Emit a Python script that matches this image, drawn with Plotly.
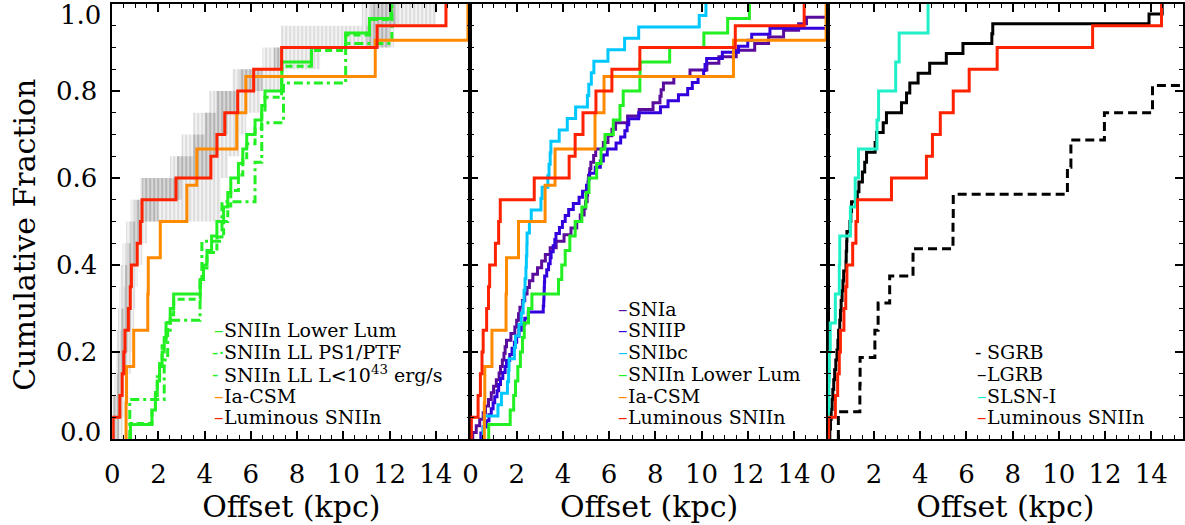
import plotly.graph_objects as go

FONT = "DejaVu Serif"

# ---------------- data: offsets (kpc) ----------------
lum_sniin = [0.04, 0.33, 0.43, 0.50, 0.55, 0.70, 0.78, 0.83, 1.08, 1.22, 1.29,
             2.76, 4.27, 4.53, 4.87, 5.43, 6.12, 7.33, 11.46, 14.44]
ia_csm = [0.60, 0.62, 0.93, 1.54, 1.56, 2.08, 3.23, 3.66, 5.39, 5.78, 11.38, 15.39]
sniin_lower = [0.79, 1.72, 1.87, 1.95, 2.05, 2.16, 2.25, 2.33, 2.51, 2.66,
               3.81, 3.95, 4.10, 4.30, 4.53, 4.82, 5.00, 5.13, 5.46, 5.65,
               5.82, 6.18, 6.47, 6.61, 7.33, 7.34, 8.62, 10.10, 11.13, 12.07]
sniin_ll_ps1ptf = [0.76, 2.25, 2.40, 3.80, 3.88, 4.75, 6.18, 6.47, 7.41, 10.10, 12.10]
sniin_ll_lowl = [0.79, 1.72, 1.87, 1.95, 2.05, 2.16, 2.33, 2.51, 2.66, 3.81,
                 3.95, 4.10, 4.53, 4.82, 5.00, 5.13, 5.46, 5.65, 5.82, 6.18,
                 6.47, 6.61, 7.33, 7.34, 8.62, 10.10, 11.13, 12.07]
snia = [0.10, 0.25, 0.40, 0.55, 0.65, 0.78, 0.90, 1.00, 1.12, 1.24, 1.30,
        1.38, 1.45, 1.50, 1.56, 1.75, 1.92, 2.00, 2.08, 2.14, 2.25, 2.35,
        2.45, 2.55, 2.70, 2.90, 3.08, 3.24, 3.45, 3.71, 4.05, 4.35, 4.60,
        4.75, 4.92, 4.98, 5.05, 5.07, 5.09, 5.11, 5.16, 5.21, 5.33, 5.42,
        5.75, 5.95, 6.12, 6.28, 6.80, 7.30, 7.90, 8.20, 8.25, 8.35, 8.80,
        9.50, 10.23, 10.75, 11.50, 12.30, 12.90, 13.55, 14.20, 14.54, 17.0, 23.0]
sniip = [0.45, 0.55, 0.70, 0.80, 0.90, 0.98, 1.05, 1.15, 1.22, 1.30, 1.40,
         1.50, 1.56, 1.70, 1.80, 1.90, 2.00, 2.10, 2.20, 2.35, 2.50, 3.15,
         3.17, 3.18, 3.19, 3.20, 3.21, 3.30, 3.38, 3.45, 3.49, 3.58, 3.65,
         3.70, 3.85, 3.98, 4.10, 4.25, 4.45, 4.70, 4.85, 5.02, 5.10, 5.15,
         5.40, 5.62, 5.75, 5.92, 6.30, 6.50, 6.68, 6.78, 6.85, 7.28, 8.22,
         8.55, 9.00, 9.40, 9.60, 9.85, 10.09, 10.15, 10.22, 10.90, 11.60,
         12.00, 12.17, 12.96, 17.0, 19.0, 24.0, 30.0]
snibc = [0.55, 0.60, 1.19, 1.34, 1.60, 1.65, 1.67, 1.90, 1.95, 2.10, 2.20,
         2.28, 2.32, 2.36, 2.40, 2.42, 2.44, 2.45, 2.55, 2.63, 3.05, 3.10,
         3.35, 3.40, 3.45, 3.48, 3.84, 4.19, 4.55, 5.06, 5.12, 5.23, 5.34,
         5.95, 6.67, 7.28, 9.90, 10.19]
lgrb = [0.09, 0.12, 0.15, 0.19, 0.22, 0.26, 0.30, 0.35, 0.40, 0.44, 0.47,
        0.52, 0.55, 0.58, 0.62, 0.66, 0.69, 0.79, 0.80, 0.82, 0.83, 0.96,
        1.00, 1.03, 1.28, 1.35, 1.50, 1.60, 1.68, 2.05, 2.11, 2.40, 2.54,
        3.19, 3.41, 3.55, 3.91, 4.41, 5.13, 5.85, 7.10, 7.14, 13.90, 14.47]
slsn_i = [0.03, 0.05, 0.07, 0.11, 0.33, 0.50, 0.52, 0.98, 1.19, 1.33,
          2.13, 2.20, 2.94, 3.09, 4.34]
sgrb = [0.46, 1.39, 1.40, 2.04, 2.18, 2.68, 3.69, 5.42, 5.43, 10.37,
        10.52, 11.97, 14.05, 17.0, 20.0, 25.0]

# grey envelope around the luminous SNIIn distribution (x range per 1/20 step)
band_outer_lo = [0.00, 0.00, 0.10, 0.15, 0.20, 0.25, 0.30, 0.35, 0.45, 0.60,
                 0.80, 1.20, 2.50, 3.00, 3.50, 4.20, 5.20, 6.50, 7.30, 10.80]
band_outer_hi = [0.45, 0.55, 0.70, 0.80, 0.85, 0.95, 1.00, 1.10, 1.30, 1.50,
                 4.70, 4.70, 5.00, 5.50, 5.80, 6.40, 7.40, 9.00, 12.20, 14.00]
band_inner_lo = [0.00, 0.05, 0.20, 0.25, 0.35, 0.40, 0.50, 0.55, 0.65, 0.80,
                 1.00, 1.30, 2.80, 3.50, 4.00, 4.50, 5.50, 7.00, 11.00, 11.20]
band_inner_hi = [0.30, 0.40, 0.50, 0.60, 0.70, 0.80, 0.85, 0.90, 1.10, 1.25,
                 2.00, 3.00, 4.30, 4.60, 5.00, 5.50, 6.50, 7.40, 12.00, 12.30]

x_ticks = [0, 2, 4, 6, 8, 10, 12, 14]
y_ticks = [0.2, 0.4, 0.6, 0.8]
y_end_labels = ["0.0", "1.0"]
x_title = "Offset (kpc)"
y_title = "Cumulative Fraction"

# ---------------- styles ----------------
RED = "#ff2200"
ORANGE = "#ff8a00"
GREEN = "#22f022"
CYAN = "#00c8ff"
BLUE = "#3300dd"
PURPLE = "#5a0c9c"
AQUA = "#20f0c8"
BLACK = "#000000"

panels = [
    [("SNIIn Lower Lum", sniin_lower, GREEN, "solid", "–"),
     ("SNIIn LL PS1/PTF", sniin_ll_ps1ptf, GREEN, "9px,4px,3px,4px", "-·"),
     ("SNIIn LL L&lt;10<sup>43</sup> erg/s", sniin_ll_lowl, GREEN, "7px,4px", "- "),
     ("Ia-CSM", ia_csm, ORANGE, "solid", "–"),
     ("Luminous SNIIn", lum_sniin, RED, "solid", "–")],
    [("SNIa", snia, PURPLE, "solid", "–"),
     ("SNIIP", sniip, BLUE, "solid", "–"),
     ("SNIbc", snibc, CYAN, "solid", "–"),
     ("SNIIn Lower Lum", sniin_lower, GREEN, "solid", "–"),
     ("Ia-CSM", ia_csm, ORANGE, "solid", "–"),
     ("Luminous SNIIn", lum_sniin, RED, "solid", "–")],
    [("SGRB", sgrb, BLACK, "9px,5px", "- "),
     ("LGRB", lgrb, BLACK, "solid", "–"),
     ("SLSN-I", slsn_i, AQUA, "solid", "–"),
     ("Luminous SNIIn", lum_sniin, RED, "solid", "–")],
]
legend_x = [4.95, 6.96, 7.0]          # data-x where legend text starts
legend_top = [0.25, 0.30, 0.20]       # data-y of first legend row
legend_step = 0.05

W, H = 1185, 525
xdom = [[105 / W, 466 / W], [466 / W, 826 / W], [826 / W, 1184 / W]]
xmax = [15.5, 15.46, 15.37]
ydom = [1 - 439 / H, 1 - 4 / H]


def ecdf(vals):
    v = sorted(vals)
    n = len(v)
    return [v[0]] + v, [0.0] + [(i + 1) / n for i in range(n)]


def band_polygon(lo, hi):
    n = len(lo)
    xs, ys = [], []
    for k in range(n):
        xs += [lo[k], lo[k]]
        ys += [k / n, (k + 1) / n]
    for k in reversed(range(n)):
        xs += [hi[k], hi[k]]
        ys += [(k + 1) / n, k / n]
    return xs, ys


fig = go.Figure()

# grey band (panel 1), vertical-streak texture like the reference
for lo, hi, fg, bg in [(band_outer_lo, band_outer_hi, "rgba(150,150,150,0.5)", "rgba(205,205,205,0.25)"),
                       (band_inner_lo, band_inner_hi, "rgba(110,110,110,0.5)", "rgba(155,155,155,0.30)")]:
    bx, by = band_polygon(lo, hi)
    fig.add_trace(go.Scatter(x=bx, y=by, mode="lines", fill="toself",
                             fillpattern=dict(shape="|", fgcolor=fg, bgcolor=bg,
                                              size=4, solidity=0.45),
                             line=dict(width=0),
                             xaxis="x", yaxis="y", showlegend=False,
                             hoverinfo="skip"))

annotations = []
for p, series in enumerate(panels):
    sfx = "" if p == 0 else str(p + 1)
    for name, vals, color, dash, _ in series:
        xs, ys = ecdf(vals)
        fig.add_trace(go.Scatter(x=xs, y=ys, mode="lines", line_shape="hv",
                                 line=dict(color=color, width=3, dash=dash),
                                 name=name, showlegend=False,
                                 xaxis="x" + sfx, yaxis="y" + sfx))
    # legend block
    for r, (name, vals, color, dash, sample) in enumerate(series):
        yv = legend_top[p] - r * legend_step
        annotations.append(dict(x=legend_x[p], y=yv, xref="x" + sfx, yref="y" + sfx,
                                text=sample, showarrow=False, xanchor="right",
                                yanchor="middle", xshift=-1,
                                font=dict(family=FONT, size=19, color=color)))
        annotations.append(dict(x=legend_x[p], y=yv, xref="x" + sfx, yref="y" + sfx,
                                text=name, showarrow=False, xanchor="left",
                                yanchor="middle", xshift=-5,
                                font=dict(family=FONT, size=19, color="black")))

axis_font = dict(family=FONT, size=26, color="black")
title_font = dict(family=FONT, size=30, color="black")
layout = dict(width=W, height=H, margin=dict(l=0, r=0, t=0, b=0),
              paper_bgcolor="white", plot_bgcolor="white", showlegend=False,
              font=dict(family=FONT, color="black"))
for p in range(3):
    sfx = "" if p == 0 else str(p + 1)
    layout["xaxis" + sfx] = dict(
        domain=xdom[p], anchor="y" + sfx, range=[0, xmax[p]],
        tickmode="array", tickvals=x_ticks, ticktext=[str(t) for t in x_ticks],
        ticks="inside", ticklen=8, tickwidth=1.5, tickcolor="black",
        minor=dict(ticks="inside", ticklen=4, tickwidth=1.2, tickcolor="black",
                   tickmode="linear", tick0=0, dtick=0.5),
        showline=True, linecolor="black", linewidth=1.5, mirror="ticks",
        showgrid=False, zeroline=False, tickfont=axis_font,
        ticklabelstandoff=11,
        title=dict(text=x_title, font=title_font, standoff=5))
    layout["yaxis" + sfx] = dict(
        domain=ydom, anchor="x" + sfx, range=[0, 1],
        tickmode="array", tickvals=y_ticks, ticktext=[f"{t:.1f}" for t in y_ticks],
        showticklabels=(p == 0),
        ticks="inside", ticklen=8, tickwidth=1.5, tickcolor="black",
        minor=dict(ticks="inside", ticklen=4, tickwidth=1.2, tickcolor="black",
                   tickmode="linear", tick0=0, dtick=0.05),
        showline=True, linecolor="black", linewidth=1.5, mirror="ticks",
        showgrid=False, zeroline=False, tickfont=axis_font,
        ticklabelstandoff=8)

# end labels of the y axis (kept inside the picture) and the y title
for lab, ypx in zip(y_end_labels, [432, 15]):
    annotations.append(dict(x=96 / W, y=1 - ypx / H, xref="paper", yref="paper",
                            text=lab, showarrow=False, xanchor="right",
                            yanchor="middle", font=axis_font))
annotations.append(dict(x=17 / W, y=1 - 235 / H, xref="paper", yref="paper",
                        text=y_title, showarrow=False, textangle=-90,
                        xanchor="center", yanchor="middle", font=title_font))
layout["annotations"] = annotations
fig.update_layout(layout)

fig.write_html("out.html", config={"displayModeBar": False},
               post_script="document.body.style.margin='0';document.body.style.overflow='hidden';")
